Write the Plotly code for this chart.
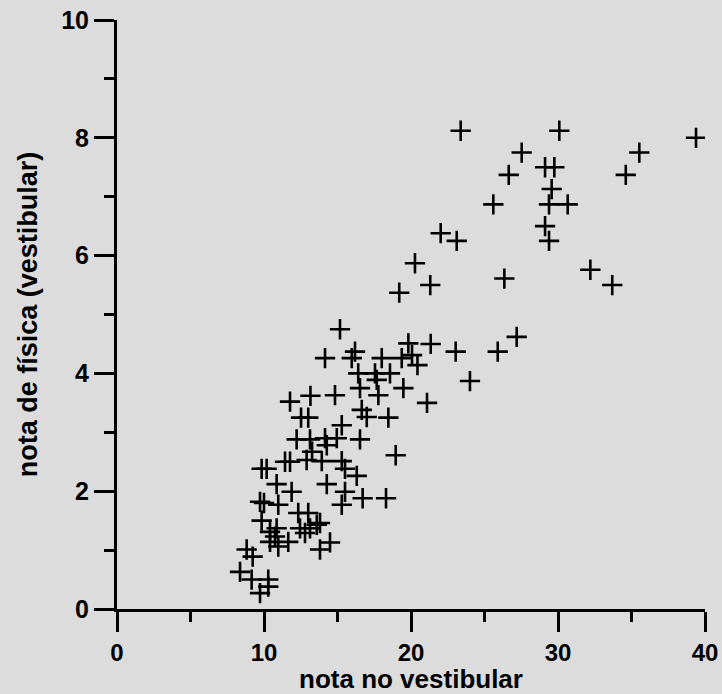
import plotly.graph_objects as go

nota_vestibular = [
    23.38, 30.09, 39.39, 27.53, 35.53, 29.12, 29.75, 26.65, 34.61, 29.57,
    25.60, 29.39, 30.66, 29.12, 29.39, 22.02, 23.11, 20.27, 21.31, 19.20,
    26.35, 32.20, 33.69, 27.19, 25.90, 23.04, 21.34, 19.82, 24.01, 21.09,
    15.17, 16.19, 15.97, 14.15, 18.01, 20.07, 20.44, 19.37, 18.57, 16.41,
    17.55, 17.67, 16.53, 17.78, 14.83, 19.48, 16.65, 16.99, 18.46, 15.29,
    16.53, 14.15, 14.27, 14.95, 18.96, 15.29, 13.93, 15.51, 16.31, 14.27,
    15.51, 11.77, 13.16, 12.52, 13.01, 12.22, 13.13, 13.27, 11.43, 11.77,
    12.90, 9.84, 10.18, 10.86, 11.88, 9.73, 10.00, 10.97, 12.33, 13.01,
    13.81, 9.84, 10.86, 10.41, 10.75, 12.45, 12.79, 13.13, 13.59, 10.41,
    10.97, 11.65, 13.81, 8.82, 9.23, 8.37, 9.16, 10.29, 10.29, 9.73,
    15.29, 16.71, 18.30, 14.49,
]
nota_fisica = [
    8.12, 8.12, 8.00, 7.75, 7.75, 7.50, 7.50, 7.37, 7.37, 7.13,
    6.87, 6.87, 6.87, 6.50, 6.25, 6.38, 6.25, 5.87, 5.50, 5.37,
    5.61, 5.76, 5.50, 4.62, 4.37, 4.37, 4.50, 4.51, 3.87, 3.50,
    4.75, 4.37, 4.26, 4.26, 4.26, 4.31, 4.14, 4.26, 4.00, 4.00,
    4.00, 3.89, 3.75, 3.63, 3.63, 3.75, 3.38, 3.26, 3.25, 3.12,
    2.88, 2.90, 2.78, 2.90, 2.61, 2.51, 2.51, 2.38, 2.26, 2.12,
    1.99, 3.52, 3.62, 3.25, 3.25, 2.88, 2.88, 2.67, 2.50, 2.50,
    2.53, 2.38, 2.38, 2.12, 1.99, 1.82, 1.80, 1.77, 1.63, 1.63,
    1.46, 1.50, 1.37, 1.31, 1.23, 1.37, 1.29, 1.37, 1.43, 1.14,
    1.06, 1.14, 1.01, 1.01, 0.89, 0.63, 0.50, 0.50, 0.38, 0.27,
    1.77, 1.88, 1.88, 1.13,
]

x_ticks = [0, 10, 20, 30, 40]
y_ticks = [0, 2, 4, 6, 8, 10]

FONT = "Arial, Liberation Sans, sans-serif"
BG = "#dcdcdc"

fig = go.Figure()
fig.add_trace(go.Scatter(
    x=nota_vestibular, y=nota_fisica, mode="markers",
    marker=dict(symbol="cross-thin", size=14.5, line=dict(color="black", width=2.6)),
    hoverinfo="x+y", showlegend=False,
))

axis_common = dict(
    showline=True, linecolor="black", linewidth=3,
    ticks="outside", ticklen=20, tickwidth=3, tickcolor="black",
    showgrid=False, zeroline=False, automargin=False,
    ticklabeloverflow="allow",
)

fig.update_xaxes(
    range=[0, 40], tickvals=x_ticks, ticktext=[str(v) for v in x_ticks],
    tickfont=dict(family=FONT, size=24, color="black", weight="bold"),
    minor=dict(ticks="outside", ticklen=10, tickwidth=3, tickcolor="black", dtick=5, tick0=0, showgrid=False),
    title=dict(text="nota no vestibular", standoff=3,
               font=dict(family=FONT, size=26, color="black", weight="bold")),
    **axis_common,
)
fig.update_yaxes(
    range=[0, 10], tickvals=y_ticks, ticktext=[str(v) for v in y_ticks],
    tickfont=dict(family=FONT, size=25, color="black", weight="bold"),
    minor=dict(ticks="outside", ticklen=10, tickwidth=3, tickcolor="black", dtick=1, tick0=0, showgrid=False),
    title=dict(text="nota de física (vestibular)", standoff=16,
               font=dict(family=FONT, size=27, color="black", weight="bold")),
    **axis_common,
)

fig.update_layout(
    width=722, height=694,
    margin=dict(l=117, r=17, t=20, b=85),
    paper_bgcolor=BG, plot_bgcolor=BG,
)

# remove the default page margin so the figure sits at the window's top-left corner
fig.write_html("out.html", config={"displayModeBar": False},
               post_script="document.body.style.margin='0px';")
